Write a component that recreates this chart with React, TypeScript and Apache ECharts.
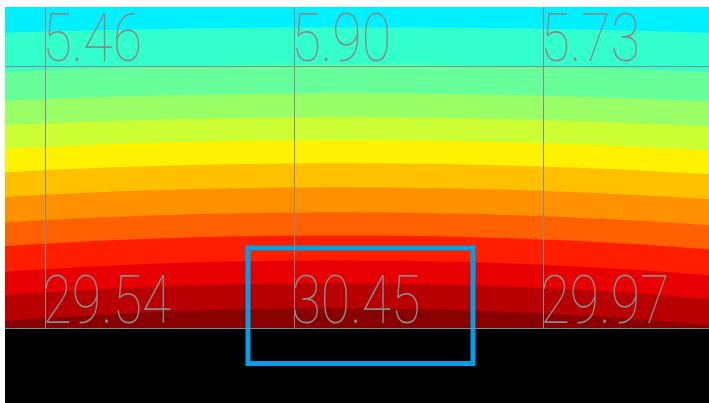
import React, { useEffect, useRef } from "react";
import * as echarts from "echarts";

// ---- data ----
const columnIndex = [0, 1, 2];
const topRowValues = [5.46, 5.9, 5.73];
const bottomRowValues = [29.54, 30.45, 29.97];
const bandThresholds = [2.25, 5.76, 8.43, 10.68, 12.83, 14.99, 17.24, 19.58, 21.74, 24.08, 26.23, 28.58];
const bandColors = [
  "#00f0ff", "#33ffcc", "#66ff99", "#99ff66", "#ccff33", "#fff200", "#ffc000",
  "#ff9000", "#ff6000", "#ff1e00", "#e80000", "#b80000", "#880000",
];

// ---- layout ----
const W = 704;
const H = 403;
const TOP = 7;
const COL0 = 40.5;
const COL_STEP = 249;
const ROW_STEP = 262;
const GRID_H = 321.5;
const X_MIN = -COL0 / COL_STEP;
const X_MAX = (W - COL0) / COL_STEP;
const Y_MAX = GRID_H / ROW_STEP;

function lagrange(u: number, v: number[]) {
  return (v[0] * (u - 1) * (u - 2)) / 2 - v[1] * u * (u - 2) + (v[2] * u * (u - 1)) / 2;
}

export default function App() {
  const ref = useRef<HTMLDivElement>(null);
  useEffect(() => {
    if (!ref.current) return;
    const chart = echarts.init(ref.current, undefined, { renderer: "svg" });
    const labelData: number[][] = [];
    columnIndex.forEach((c, i) => labelData.push([c, 1, topRowValues[i]]));
    columnIndex.forEach((c, i) => labelData.push([c, 0, bottomRowValues[i]]));
    const maxVal = Math.max(...topRowValues, ...bottomRowValues);

    const renderField = (_params: any, api: any) => {
      const children: any[] = [];
      const bl = api.coord([X_MIN, 0]);
      const tr = api.coord([X_MAX, Y_MAX]);
      children.push({
        type: "rect",
        shape: { x: bl[0], y: tr[1], width: tr[0] - bl[0], height: bl[1] - tr[1] },
        style: { fill: bandColors[0] },
      });
      bandThresholds.forEach((t, k) => {
        const pts: number[][] = [];
        const N = 200;
        for (let i = 0; i <= N; i++) {
          const u = X_MIN + ((X_MAX - X_MIN) * i) / N;
          const top = lagrange(u, topRowValues);
          const bot = lagrange(u, bottomRowValues);
          let y = (t - bot) / (top - bot);
          y = Math.max(0, Math.min(Y_MAX, y));
          pts.push(api.coord([u, y]));
        }
        pts.push(api.coord([X_MAX, 0]));
        pts.push(api.coord([X_MIN, 0]));
        children.push({ type: "polygon", shape: { points: pts }, style: { fill: bandColors[k + 1] } });
      });
      return { type: "group", children };
    };

    const renderLabel = (_params: any, api: any) => {
      const p = api.coord([api.value(0), api.value(1)]);
      const v = api.value(2) as number;
      const children: any[] = [
        {
          type: "text",
          x: p[0] - 3,
          y: p[1] - 28,
          scaleX: 0.8,
          style: {
            text: v.toFixed(2),
            fontFamily: "Roboto",
            fontWeight: 100,
            fontSize: 67,
            lineHeight: 50,
            fill: "#8a8a8a",
            align: "left",
            verticalAlign: "middle",
          },
        },
      ];
      if (v === maxVal) {
        children.push({
          type: "rect",
          shape: { x: p[0] - 46.5, y: p[1] - 80.5, width: 225, height: 115.5 },
          style: { fill: "none", stroke: "#00a0e4", lineWidth: 5 },
        });
      }
      return { type: "group", children };
    };

    chart.setOption({
      animation: false,
      backgroundColor: "#000",
      graphic: [
        { type: "rect", left: 0, top: 0, z: 0, shape: { width: W, height: TOP }, style: { fill: "#fff" }, silent: true },
      ],
      grid: { left: 0, right: 0, top: TOP, height: GRID_H, containLabel: false },
      xAxis: { type: "value", min: X_MIN, max: X_MAX, show: false },
      yAxis: { type: "value", min: 0, max: Y_MAX, show: false },
      series: [
        { type: "custom", name: "field", data: [[0, 0]], renderItem: renderField, silent: true, z: 1 },
        {
          type: "custom",
          name: "values",
          data: labelData,
          renderItem: renderLabel,
          silent: true,
          z: 3,
          markLine: {
            silent: true,
            symbol: ["none", "none"],
            label: { show: false },
            lineStyle: { color: "#8a8a8a", width: 1, type: "solid" },
            data: [
              ...columnIndex.map((c) => ({ xAxis: c })),
              { yAxis: 0 },
              { yAxis: 1 },
            ],
          },
        },
      ],
    });
    return () => chart.dispose();
  }, []);
  return <div ref={ref} style={{ position: "absolute", left: 5, top: 0, width: W, height: H }} />;
}
